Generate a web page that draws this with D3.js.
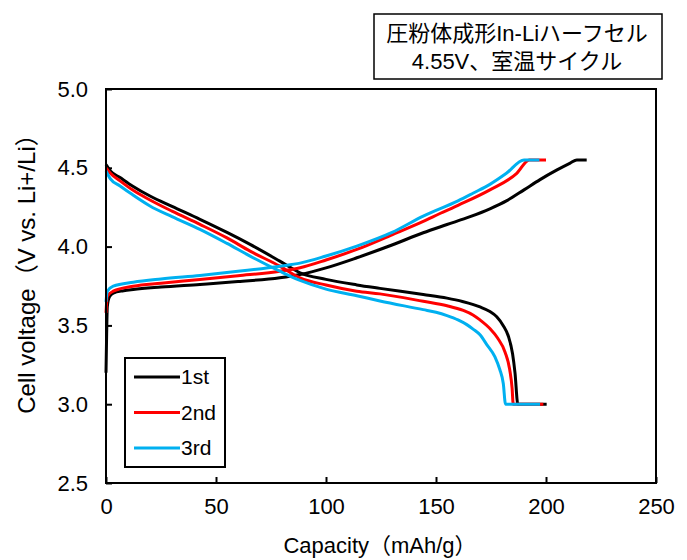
<!DOCTYPE html>
<html><head><meta charset="utf-8">
<script src="https://cdn.jsdelivr.net/npm/d3@7"></script>
<style>body{margin:0;background:#fff}svg{display:block}text{font-family:"Liberation Sans","Noto Sans CJK JP",sans-serif}</style>
</head><body><svg id="c" width="687" height="560"></svg>
<script>
const seriesNames = ["1st", "2nd", "3rd"];
const seriesColors = ["#000000", "#ff0000", "#00b0f0"];
const xTicks = [0, 50, 100, 150, 200, 250];
const yTicks = [2.5, 3.0, 3.5, 4.0, 4.5, 5.0];
const titleLines = ["圧粉体成形In-Liハーフセル", "4.55V、室温サイクル"];
const xTitle = "Capacity（mAh/g）";
const yTitle = "Cell voltage（V vs. Li+/Li）";

// [capacity mAh/g, voltage V]
const charge1 = [[0,3.20],[0.3,3.45],[0.6,3.62],[1.5,3.68],[3.3,3.705],[8,3.72],[12.4,3.728],[25,3.743],[42.7,3.760],[60,3.778],[79,3.802],[88.2,3.823],[100,3.865],[114,3.929],[130,4.01],[144.2,4.088],[155,4.14],[165.5,4.19],[174.5,4.24],[182,4.29],[190,4.36],[197.3,4.425],[204.8,4.485],[211,4.53],[214,4.55],[218.5,4.55]];
const charge2 = [[0,3.58],[0.6,3.685],[3.3,3.717],[12.4,3.749],[25,3.768],[42.7,3.791],[60,3.815],[79,3.844],[88.2,3.866],[100,3.915],[114,3.982],[130,4.075],[144.2,4.16],[151.8,4.21],[160,4.262],[174.5,4.36],[186.7,4.465],[192.4,4.55],[200,4.55]];
const charge3 = [[0,3.65],[0.6,3.717],[3.3,3.749],[12.4,3.774],[25,3.795],[42.7,3.817],[60,3.843],[79,3.876],[88.2,3.895],[100,3.94],[114,4.003],[130,4.09],[144.2,4.194],[160,4.29],[167,4.34],[174.5,4.395],[182,4.465],[190,4.55],[197,4.55]];
const discharge1 = [[0,4.52],[2,4.48],[6.4,4.438],[12,4.385],[20,4.321],[30,4.255],[42.7,4.173],[55,4.09],[65.5,4.014],[79,3.908],[88.2,3.834],[100,3.792],[114,3.757],[124.5,3.735],[144.2,3.696],[155,3.673],[162,3.652],[167,3.632],[170,3.617],[174.5,3.588],[177.6,3.555],[180.5,3.50],[182.9,3.431],[184.8,3.32],[185.9,3.20],[187.2,3.0],[200.3,3.0]];
const discharge2 = [[0,4.50],[2,4.465],[6.4,4.417],[12,4.36],[20,4.296],[30,4.225],[42.7,4.141],[55,4.055],[65.5,3.971],[79,3.876],[88.2,3.802],[100,3.756],[114,3.717],[124.5,3.70],[144.2,3.653],[155,3.625],[162.4,3.595],[167,3.565],[170,3.535],[174.5,3.48],[178,3.42],[181.4,3.33],[183.5,3.22],[184.6,3.10],[185.1,3.0],[198.8,3.0]];
const discharge3 = [[0,4.48],[2,4.43],[6.4,4.385],[12,4.33],[20,4.258],[30,4.19],[42.7,4.109],[55,4.02],[65.5,3.940],[79,3.844],[88.2,3.785],[100,3.73],[114,3.688],[124.5,3.655],[144.2,3.60],[150,3.583],[155,3.562],[160,3.535],[164,3.505],[167,3.475],[170,3.44],[173,3.38],[176.8,3.30],[179,3.22],[180.6,3.13],[181.6,3.0],[197.3,3.0]];

const charges = [charge1, charge2, charge3];
const discharges = [discharge1, discharge2, discharge3];

const svg = d3.select("#c");
const x = d3.scaleLinear().domain([0, 250]).range([106, 656]);
const y = d3.scaleLinear().domain([2.5, 5.0]).range([483, 89]);

// title box
svg.append("rect").attr("x", 374).attr("y", 14).attr("width", 288).attr("height", 65)
  .attr("fill", "#fff").attr("stroke", "#000").attr("stroke-width", 1.5);
svg.selectAll("text.title").data(titleLines).join("text").attr("class", "title")
  .attr("x", 517).attr("y", (d, i) => 41 + i * 28).attr("text-anchor", "middle")
  .attr("font-size", 22).text(d => d);

// axes
const xAxis = d3.axisBottom(x).tickValues(xTicks).tickSize(-6).tickPadding(15).tickFormat(d3.format("d"));
const yAxis = d3.axisLeft(y).tickValues(yTicks).tickSize(-6).tickPadding(18).tickFormat(d3.format(".1f"));
const gx = svg.append("g").attr("transform", `translate(0,${y(2.5)})`).call(xAxis);
const gy = svg.append("g").attr("transform", `translate(${x(0)},0)`).call(yAxis);
[gx, gy].forEach(g => {
  g.select(".domain").remove();
  g.selectAll(".tick line").attr("stroke", "#000").attr("stroke-width", 2);
  g.selectAll(".tick text").attr("font-size", 22).attr("fill", "#000")
    .style("font-family", '"Liberation Sans",sans-serif');
});

const line = d3.line().x(d => x(d[0])).y(d => y(d[1])).curve(d3.curveMonotoneX);
const g = svg.append("g");
for (let i = 0; i < 3; i++) {
  g.append("path").attr("d", line(charges[i])).attr("fill", "none")
    .attr("stroke", seriesColors[i]).attr("stroke-width", 3).attr("stroke-linejoin", "round");
  g.append("path").attr("d", line(discharges[i])).attr("fill", "none")
    .attr("stroke", seriesColors[i]).attr("stroke-width", 3).attr("stroke-linejoin", "round");
}

// frame
svg.append("rect").attr("x", x(0)).attr("y", y(5)).attr("width", x(250) - x(0)).attr("height", y(2.5) - y(5))
  .attr("fill", "none").attr("stroke", "#000").attr("stroke-width", 2);

// legend
const lg = svg.append("g");
lg.append("rect").attr("x", 125).attr("y", 358).attr("width", 100).attr("height", 109)
  .attr("fill", "#fff").attr("stroke", "#000").attr("stroke-width", 2);
seriesNames.forEach((n, i) => {
  const yy = 377 + i * 35.5;
  lg.append("line").attr("x1", 134).attr("x2", 180).attr("y1", yy).attr("y2", yy)
    .attr("stroke", seriesColors[i]).attr("stroke-width", 3);
  lg.append("text").attr("x", 181).attr("y", yy + 7).attr("font-size", 21).text(n);
});

// axis titles
svg.append("text").attr("x", 380).attr("y", 553).attr("text-anchor", "middle").attr("font-size", 22)
  .text(xTitle);
svg.append("text").attr("transform", "translate(35,268) rotate(-90)").attr("text-anchor", "middle")
  .attr("font-size", 24).text(yTitle);
</script></body></html>
